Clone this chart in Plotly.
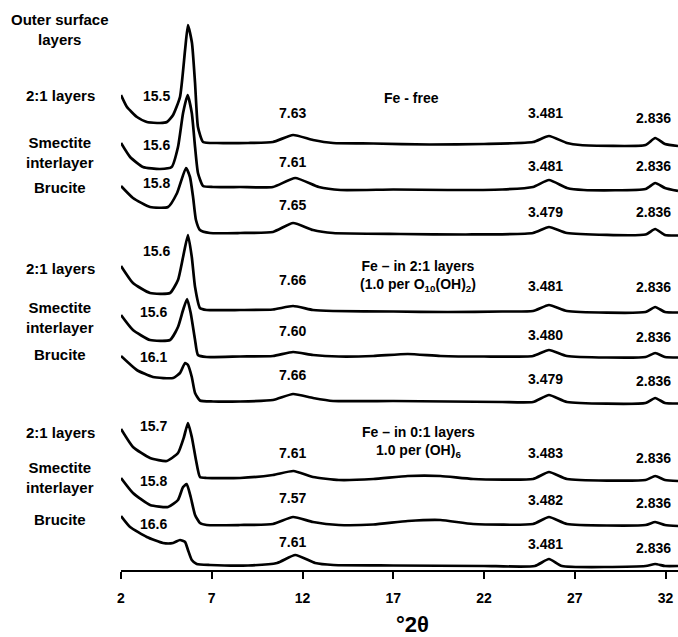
import plotly.graph_objects as go

# ---- data: 2-theta positions and intensities (arbitrary units) ----
tt_fefree_21 = [2.0, 2.33, 2.88, 3.43, 4.15, 4.53, 4.87, 5.25, 5.53, 5.69, 5.91, 6.08, 6.24, 6.52, 7.29, 9.0, 10.37, 11.48, 12.58, 13.68, 15.9, 19.0, 22.0, 24.7, 25.58, 26.57, 27.3, 30.9, 31.43, 31.97, 32.69]
int_fefree_21 = [50, 38, 28, 23, 22, 23, 30, 48, 95, 120, 102, 62, 18, 3, 2, 2, 3, 10, 5, 2, 1.5, 0.5, 1, 3, 9, 2, 0, 0, 7, 1, -1]

tt_fefree_sm = [2.0, 2.5, 3.21, 4.15, 4.79, 5.14, 5.42, 5.67, 5.90, 6.08, 6.24, 6.52, 7.07, 8.56, 10.37, 11.6, 12.9, 14.1, 17, 20, 23, 24.7, 25.58, 26.57, 27.5, 30.9, 31.43, 31.97, 32.69]
int_fefree_sm = [47, 33, 23, 21, 23, 43, 77, 95, 77, 43, 17, 4, 3, 3, 3, 12, 3, 0, 0.5, 0, 0.5, 3, 10, 2, 0, 1, 7, 2, -1]

tt_fefree_br = [2.0, 2.66, 3.60, 4.59, 5.09, 5.58, 5.80, 5.97, 6.13, 6.35, 6.90, 8.56, 10.37, 11.48, 12.58, 13.68, 17.4, 21, 24.7, 25.58, 26.57, 30.9, 31.43, 31.97, 32.69]
int_fefree_br = [49, 37, 28, 28, 42, 67, 58, 38, 15, 5, 2, 2, 3, 12, 5, 2, 1, 0.5, 2, 8, 2, 0.5, 6, 0, -0.5]

tt_fe21_21 = [2.0, 2.66, 3.60, 4.70, 5.14, 5.42, 5.69, 5.90, 6.08, 6.35, 6.72, 8.56, 10.37, 11.48, 12.58, 13.68, 17, 20, 23, 24.7, 25.58, 26.57, 30.9, 31.43, 31.97, 32.69]
int_fe21_21 = [46, 29, 19, 19, 32, 55, 77, 55, 25, 4, 2, 2, 2.5, 6, 2, 1, 0.5, 0, 0.5, 1, 7, 1, 0, 5, 0, -0.5]

tt_fe21_sm = [2.0, 2.66, 3.60, 4.70, 5.14, 5.42, 5.64, 5.84, 6.08, 6.24, 6.72, 8.56, 10.37, 11.48, 12.58, 14.0, 15.9, 17.8, 19.6, 22, 24.7, 25.58, 26.57, 30.9, 31.43, 31.97, 32.69]
int_fe21_sm = [42, 27, 17, 17, 30, 47, 58, 44, 17, 2, 0, 0.5, 1, 5, 2, 0.5, 1, 3, 1, 0.5, 1, 7, 1, 0, 4, 0, -0.5]

tt_fe21_br = [2.0, 2.87, 3.76, 4.87, 5.25, 5.53, 5.69, 5.90, 6.08, 6.35, 7.07, 8.56, 10.37, 11.48, 12.58, 13.68, 17, 20, 23, 24.7, 25.58, 26.57, 30.9, 31.43, 31.97, 32.69]
int_fe21_br = [47, 33, 26, 25, 30, 40, 38, 26, 10, 2.5, 1.5, 1.5, 3, 9, 5, 2, 2, 1.5, 1, 1, 8, 1, 0, 5, 0, -0.5]

tt_fe01_21 = [2.0, 2.66, 3.60, 4.52, 5.14, 5.47, 5.69, 5.90, 6.13, 6.35, 6.72, 8.56, 10.37, 11.5, 12.58, 14.0, 15.9, 17.8, 19.6, 21.4, 24.7, 25.58, 26.57, 30.9, 31.43, 31.97, 32.69]
int_fe01_21 = [51, 33, 22, 19, 27, 43, 57, 43, 20, 3, 2, 2, 5, 9, 3, 0, 1, 4, 4, 1, 1, 8, 1, 0, 4, 0, -1]

tt_fe01_sm = [2.0, 2.66, 3.60, 4.59, 5.14, 5.42, 5.62, 5.84, 6.08, 6.35, 6.72, 8.56, 10.37, 11.48, 12.58, 14.0, 15.9, 17.8, 19.6, 21.4, 24.7, 25.58, 26.57, 30.9, 31.43, 31.97, 32.69]
int_fe01_sm = [48, 33, 21, 19, 26, 39, 42, 29, 11, 3, 1, 1, 2, 9, 4, 1, 1.5, 5, 6, 2, 2, 9, 2, 1, 4, 1, 0]

tt_fe01_br = [2.0, 2.5, 3.42, 4.31, 4.87, 5.25, 5.53, 5.69, 5.90, 6.17, 6.90, 9.0, 10.6, 11.6, 12.7, 13.7, 17, 22, 24.8, 25.58, 26.3, 30.9, 31.43, 31.97, 32.69]
int_fe01_br = [50, 39, 29, 23, 23, 26, 24, 16, 6, 2, 1, 0.5, 3, 11, 3, 1, 0.5, 0, 0, 7, 0, 0, 2, 0, 0]

# d-spacing labels (Angstrom) for each pattern
d_low = ["15.5", "15.6", "15.8", "15.6", "15.6", "16.1", "15.7", "15.8", "16.6"]
d_7 = ["7.63", "7.61", "7.65", "7.66", "7.60", "7.66", "7.61", "7.57", "7.61"]
d_35 = ["3.481", "3.481", "3.479", "3.481", "3.480", "3.479", "3.483", "3.482", "3.481"]
d_28 = ["2.836"] * 9

layer_names = ["2:1 layers", "Smectite<br>interlayer", "Brucite"]
group_titles = ["Fe - free", "Fe – in 2:1 layers<br>(1.0 per O<sub>10</sub>(OH)<sub>2</sub>)",
                "Fe – in 0:1 layers<br>1.0 per (OH)<sub>6</sub>"]
x_ticks = [2, 7, 12, 17, 22, 27, 32]

# ---- layout constants (vertical stacking offsets, label positions) ----
curves = [(tt_fefree_21, int_fefree_21), (tt_fefree_sm, int_fefree_sm), (tt_fefree_br, int_fefree_br),
          (tt_fe21_21, int_fe21_21), (tt_fe21_sm, int_fe21_sm), (tt_fe21_br, int_fe21_br),
          (tt_fe01_21, int_fe01_21), (tt_fe01_sm, int_fe01_sm), (tt_fe01_br, int_fe01_br)]
offsets = [425, 380, 335, 258, 213, 167, 90, 44, 4]

H_PLOT = 570.0  # plot height in px, y units == px
FONT = "Liberation Sans, Arial, sans-serif"

fig = go.Figure()
for (tt, inten), off in zip(curves, offsets):
    fig.add_trace(go.Scatter(
        x=tt, y=[v + off for v in inten], mode="lines",
        line=dict(color="black", width=2.7, shape="spline", smoothing=0.5),
        hoverinfo="skip", showlegend=False))

def py(p):
    return H_PLOT - p

ann = []
def add(text, x, y, xref="x", yref="y", size=14, xanchor="center"):
    ann.append(dict(text="<b>" + text + "</b>", x=x, y=y, xref=xref, yref=yref,
                    showarrow=False, xanchor=xanchor, yanchor="middle",
                    font=dict(family=FONT, size=size, color="black")))

y_low = [96, 145, 183, 251, 312, 357, 426, 481, 524]
y_7 = [113, 162, 205, 280, 331, 375, 453, 498, 542]
y_35 = [113, 166, 212, 286, 335, 379, 453, 500, 544]
y_28 = [118, 166, 212, 287, 337, 381, 458, 503, 548]
for i in range(9):
    add(d_low[i], 3.95 if i < 4 else 3.8, py(y_low[i]))
    add(d_7[i], 11.45, py(y_7[i]))
    add(d_35[i], 25.4, py(y_35[i]))
    add(d_28[i], 31.35, py(y_28[i]))

add(group_titles[0], 18.0, py(98))
add(group_titles[1], 18.35, py(276))
add(group_titles[2], 18.4, py(442))

lx = (60 - 121) / 557.0
add("Outer surface<br>layers", lx, py(29), xref="paper", size=15)
left_y = [95, 152, 187, 268, 317, 354, 432, 477, 519]
for i in range(9):
    add(layer_names[i % 3], lx, py(left_y[i]), xref="paper", size=15)

# axis title below the axis
add("°2θ", 18.05, (H_PLOT - 624) / H_PLOT, yref="paper", size=22)

fig.update_layout(
    width=678, height=637,
    margin=dict(l=121, r=0, t=0, b=67),
    paper_bgcolor="white", plot_bgcolor="white",
    annotations=ann,
    xaxis=dict(range=[2, 2 + 557 / 18.15], tickvals=x_ticks, ticktext=[str(t) for t in x_ticks],
               showgrid=False, zeroline=False, showline=True, linecolor="black", linewidth=2,
               ticks="outside", ticklen=7, tickwidth=2, tickcolor="black",
               ticklabelstandoff=7,
               tickfont=dict(family=FONT, size=14, color="black", weight="bold")),
    yaxis=dict(range=[0, H_PLOT], visible=False, showgrid=False, zeroline=False),
)

fig.write_html("out.html", config={"displayModeBar": False, "staticPlot": True},
               post_script="document.body.style.margin='0px';document.body.style.overflow='hidden';")
